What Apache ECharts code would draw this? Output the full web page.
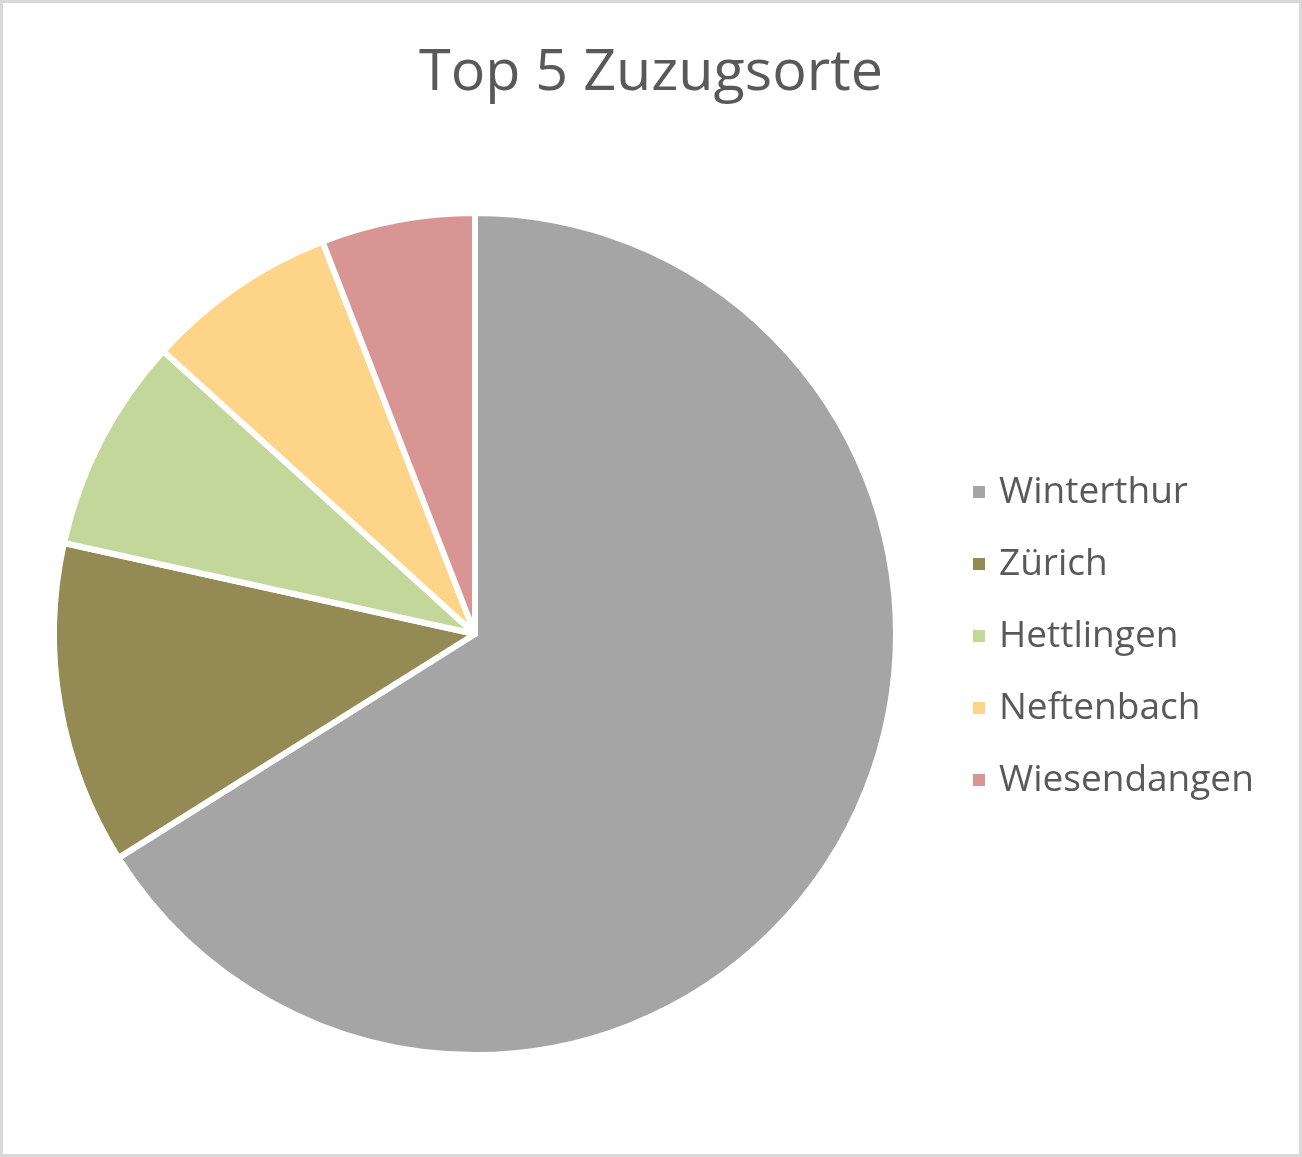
<!DOCTYPE html>
<html>
<head>
<meta charset="utf-8">
<script src="https://cdn.jsdelivr.net/npm/echarts@6/dist/echarts.min.js"></script>
<style>
  html, body { margin: 0; padding: 0; background: #fff; }
  #container { width: 1302px; height: 1157px; box-sizing: border-box; border: 3px solid #d9d9d9; }
</style>
</head>
<body>
<div id="container"></div>
<script>
var chartTitle = "Top 5 Zuzugsorte";
var orte = ["Winterthur", "Zürich", "Hettlingen", "Neftenbach", "Wiesendangen"];
var anzahl = [224, 42, 28, 25, 20];
var farben = ["#a5a5a5", "#948a54", "#c4d79b", "#fed588", "#d99594"];

var myChart = echarts.init(document.getElementById("container"));
var font = "'Open Sans', 'Noto Sans', sans-serif";

myChart.setOption({
    animation: false,
    title: {
        text: chartTitle,
        left: "center",
        top: 37,
        textStyle: {
            fontFamily: font,
            fontSize: 57.5,
            fontWeight: "normal",
            color: "#595959"
        }
    },
    legend: {
        orient: "vertical",
        left: 963,
        top: 462,
        icon: "rect",
        itemWidth: 14,
        itemHeight: 14,
        itemGap: 28,
        data: orte,
        textStyle: {
            fontFamily: font,
            fontSize: 37,
            lineHeight: 44,
            color: "#595959",
            padding: [0, 0, 0, 8]
        }
    },
    series: [
        {
            type: "pie",
            center: [472, 631],
            radius: 421,
            startAngle: 90,
            clockwise: true,
            label: { show: false },
            labelLine: { show: false },
            emphasis: { disabled: true },
            itemStyle: {
                borderColor: "#ffffff",
                borderWidth: 6
            },
            data: orte.map(function (name, i) {
                return { name: name, value: anzahl[i], itemStyle: { color: farben[i] } };
            })
        }
    ]
});
</script>
</body>
</html>
